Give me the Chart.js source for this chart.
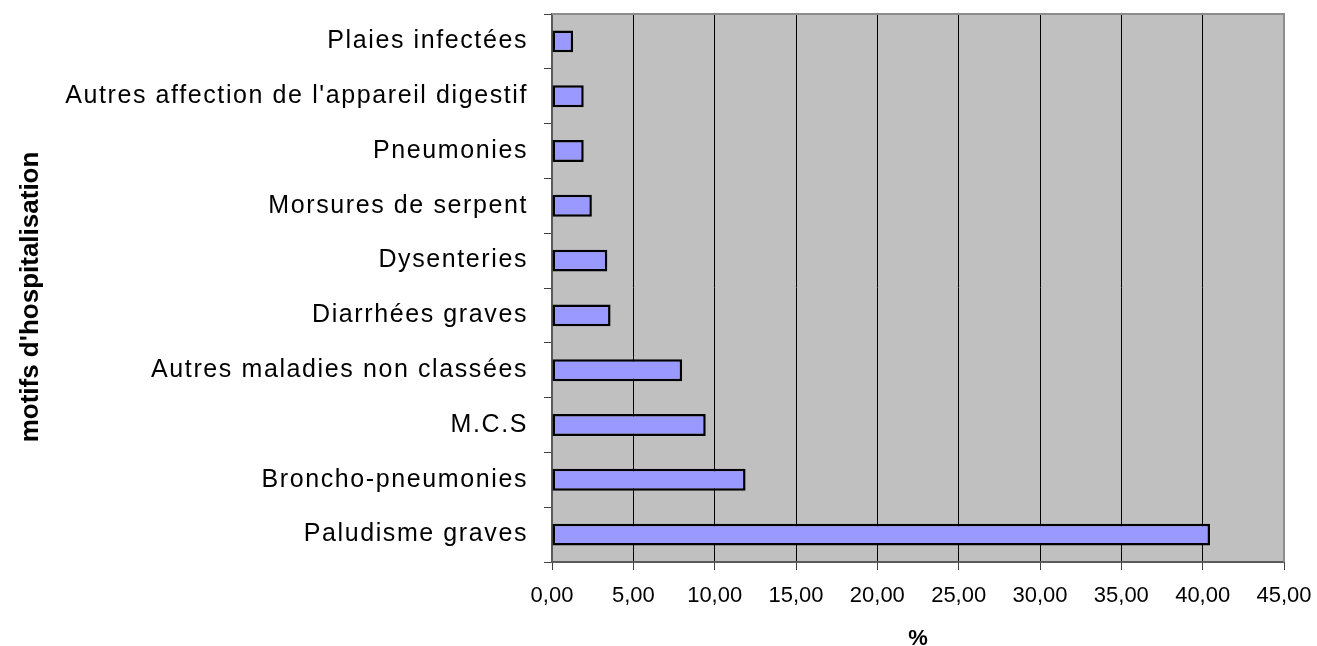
<!DOCTYPE html>
<html>
<head>
<meta charset="utf-8">
<script src="https://cdn.jsdelivr.net/npm/chart.js@4"></script>
<style>
  html, body { margin: 0; padding: 0; background: #fff; }
  #wrap { width: 1317px; height: 646px; position: relative; }
</style>
</head>
<body>
<div id="wrap"><canvas id="mainChart"></canvas></div>
<script>
const categories = [
  'Plaies infectées',
  "Autres affection de l'appareil digestif",
  'Pneumonies',
  'Morsures de serpent',
  'Dysenteries',
  'Diarrhées graves',
  'Autres maladies non classées',
  'M.C.S',
  'Broncho-pneumonies',
  'Paludisme graves',
];
const percents = [1.3, 1.95, 1.95, 2.45, 3.4, 3.6, 8.0, 9.45, 11.9, 40.45];
const xTickLabels = ['0,00', '5,00', '10,00', '15,00', '20,00', '25,00', '30,00', '35,00', '40,00', '45,00'];

const FONT = "'Liberation Sans', Arial, sans-serif";

// grey plot area + frame, and the wider letter spacing of the category labels
const plotArea = {
  id: 'plotArea',
  beforeDraw(c) {
    const { ctx, chartArea: a } = c;
    ctx.save();
    ctx.fillStyle = '#c0c0c0';
    ctx.fillRect(a.left, a.top, a.right - a.left, a.bottom - a.top);
    ctx.restore();

    // the axis title sits a bit below the plot centre in the original
    const s = c.scales.y;
    if (s && !s._shifted) {
      const orig = s.drawTitle.bind(s);
      s.drawTitle = function () {
        this.ctx.save();
        this.ctx.translate(0, 9);
        orig();
        this.ctx.restore();
      };
      s._shifted = true;
    }
  },
  afterDatasetsDraw(c) {
    const { ctx, chartArea: a } = c;
    ctx.save();
    ctx.strokeStyle = '#8c8c8c';
    ctx.lineWidth = 2;
    ctx.beginPath();
    ctx.moveTo(a.left, a.top);
    ctx.lineTo(a.right, a.top);
    ctx.lineTo(a.right, a.bottom);
    ctx.stroke();
    ctx.restore();
    ctx.letterSpacing = '1.6px';
  },
  afterDraw(c) {
    c.ctx.letterSpacing = '0px';
  }
};

Chart.defaults.color = '#000';
Chart.defaults.font.family = FONT;

new Chart(document.getElementById('mainChart'), {
  type: 'bar',
  data: {
    labels: categories,
    datasets: [{
      data: percents,
      backgroundColor: '#9999ff',
      borderColor: '#000',
      borderWidth: 2.5,
      borderSkipped: false,
      barPercentage: 0.4,
      categoryPercentage: 1,
    }]
  },
  options: {
    indexAxis: 'y',
    responsive: true,
    maintainAspectRatio: false,
    animation: false,
    layout: { padding: { top: 14, right: 33, left: 0, bottom: 0 } },
    plugins: {
      legend: { display: false },
      tooltip: { enabled: false }
    },
    scales: {
      x: {
        min: 0,
        max: 45,
        ticks: {
          stepSize: 5,
          color: '#000',
          font: { size: 22 },
          padding: 13,
          maxRotation: 0,
          callback: (v, i) => xTickLabels[i],
        },
        grid: { color: '#000', lineWidth: 1, tickLength: 8, tickColor: '#404040' },
        border: { color: '#5a5a5a', width: 2 },
        title: {
          display: true,
          text: '%',
          color: '#000',
          font: { size: 22, weight: 'bold' },
          padding: { top: 0, bottom: -6 },
        },
        afterFit: s => { s.height = 84; s.paddingLeft = 0; s.paddingRight = 0; },
      },
      y: {
        ticks: {
          color: '#000',
          font: { size: 25 },
          padding: 16,
          z: 1,
        },
        grid: { drawOnChartArea: false, offset: true, tickLength: 8, color: '#404040' },
        border: { color: '#5a5a5a', width: 2 },
        title: {
          display: true,
          text: "motifs d'hospitalisation",
          color: '#000',
          font: { size: 26, weight: 'bold' },
          padding: { top: 15, bottom: 0 },
        },
        afterFit: s => { s.width = 552; s.paddingTop = 0; s.paddingBottom = 0; },
      }
    }
  },
  plugins: [plotArea]
});
</script>
</body>
</html>
